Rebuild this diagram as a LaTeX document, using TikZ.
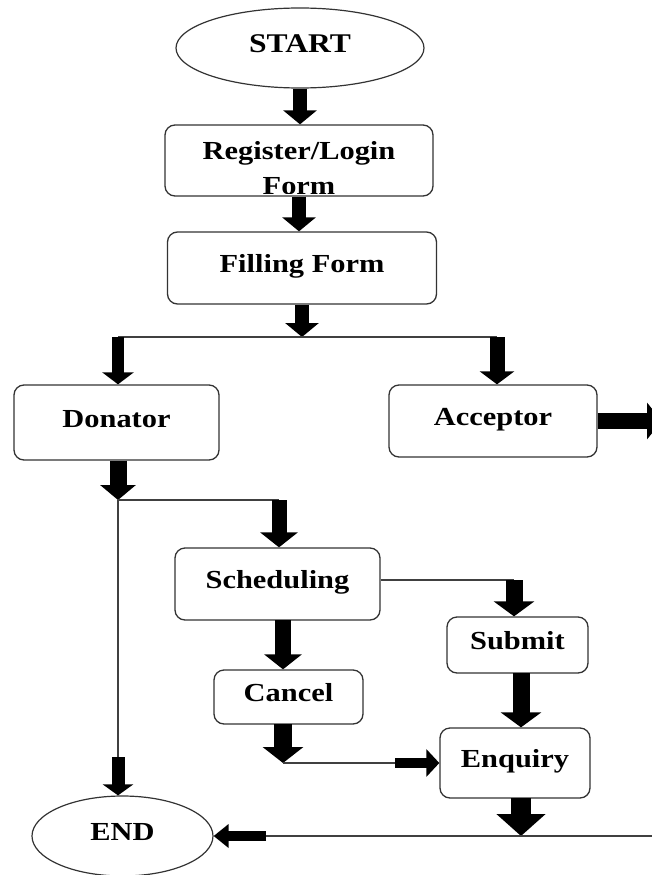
\documentclass[tikz,border=0pt]{standalone}
\usepackage{fontspec}
\setmainfont{Liberation Serif}[FakeStretch=1.17]
\usetikzlibrary{arrows.meta,shapes.geometric}
\begin{document}
\begin{tikzpicture}[x=1pt,y=-1pt,
  lbl/.style={font=\bfseries\fontsize{26}{30}\selectfont},
  box/.style={lbl, draw=black!80, line width=1.3pt, rounded corners=10pt, inner sep=0pt, text height=18pt, text depth=9pt},
  oval/.style={lbl, draw=black!80, line width=1.2pt, ellipse, inner sep=0pt, text height=18pt, text depth=9pt},
  txt/.style={lbl, inner sep=0pt, text height=17.5pt, text depth=0pt},
  ln/.style={draw=black!75, line width=1.2pt},
  blk/.style n args={3}{draw=black, line width=#1, -{Triangle[length=#3,width=#2]}},
]
\useasboundingbox (0,0) rectangle (651,875);

% nodes
\node[oval, minimum width=248pt, minimum height=80pt, font=\bfseries\fontsize{27}{30}\selectfont] (start) at (300,48) {START};
\node[box, minimum width=268pt, minimum height=71pt] (reg) at (299,160.5) {};
\node[txt] (regA) at (299,151) {Register/Login};
\begin{scope}
  \clip (170,130) rectangle (430,193);
  \node[txt] (regB) at (299,186) {Form};
\end{scope}
\node[box, minimum width=269pt, minimum height=72pt] (fill) at (302,268) {Filling Form};
\node[box, minimum width=205pt, minimum height=75pt] (don) at (116.5,422.5) {Donator};
\node[box, minimum width=208pt, minimum height=72pt] (acc) at (493,421) {Acceptor};
\node[box, minimum width=205pt, minimum height=72pt] (sch) at (277.5,584) {Scheduling};
\node[box, minimum width=141pt, minimum height=56pt] (sub) at (517.5,645) {Submit};
\node[box, minimum width=149pt, minimum height=54pt] (can) at (288.5,697) {Cancel};
\node[box, minimum width=150pt, minimum height=70pt] (enq) at (515,763) {Enquiry};
\node[oval, minimum width=181pt, minimum height=80pt] (end) at (122.5,836) {END};

% helper coordinates
\coordinate (sL) at (118,337);
\coordinate (sR) at (497,337);
\coordinate (accout) at (662,421);
\coordinate (dS) at (118,500);
\coordinate (dR) at (279,500);
\coordinate (dE) at (118,757);
\coordinate (sT) at (514,580);
\coordinate (schS) at (283,620);
\coordinate (canS) at (283,724);
\coordinate (cK) at (395,763);
\coordinate (subS) at (521,673);
\coordinate (eS) at (521,798);
\coordinate (eJ) at (521,836);
\coordinate (eR) at (662,836);
\coordinate (eL) at (266,836);

% connectors
\draw[blk={14pt}{33pt}{14pt}] (start.south) -- (start.south |- reg.north);
\draw[blk={14pt}{33pt}{14pt}] (reg.south) -- (reg.south |- fill.north);
\draw[blk={14pt}{33pt}{14pt}] (fill.south) -- (fill.south |- sL);
\draw[ln] (sL) -- (sR);
\draw[blk={12pt}{31pt}{12pt}] (sL) -- (sL |- don.north);
\draw[blk={15pt}{34pt}{13pt}] (sR) -- (sR |- acc.north);
\draw[blk={16pt}{36pt}{15pt}] (acc.east) -- (accout);

\draw[blk={17pt}{35pt}{15pt}] (don.south -| sL) -- (dS);
\draw[ln] (dS) -- (dR);
\draw[blk={15pt}{37pt}{15pt}] (dR) -- (dR |- sch.north);
\draw[ln] (dS) -- (dE);
\draw[blk={13pt}{30pt}{11pt}] (dE) -- (dE |- end.north);

\draw[ln] ([yshift=4pt]sch.east) -- (sT);
\draw[blk={17pt}{40pt}{15pt}] (sT) -- (sT |- sub.north);
\draw[blk={16pt}{37pt}{15pt}] (schS) -- (schS |- can.north);

\draw[blk={18pt}{40pt}{16pt}] (canS) -- (canS |- enq.west);
\draw[ln] (canS |- enq.west) -- (cK);
\draw[blk={10pt}{27pt}{13pt}] (cK) -- (enq.west);

\draw[blk={17pt}{40pt}{15pt}] (subS) -- (subS |- enq.north);

\draw[blk={20pt}{48pt}{22pt}] (eS) -- (eJ);
\draw[ln] (eR) -- (eL);
\draw[blk={10pt}{23pt}{15pt}] (eL) -- (eL -| end.east);
\end{tikzpicture}
\end{document}
